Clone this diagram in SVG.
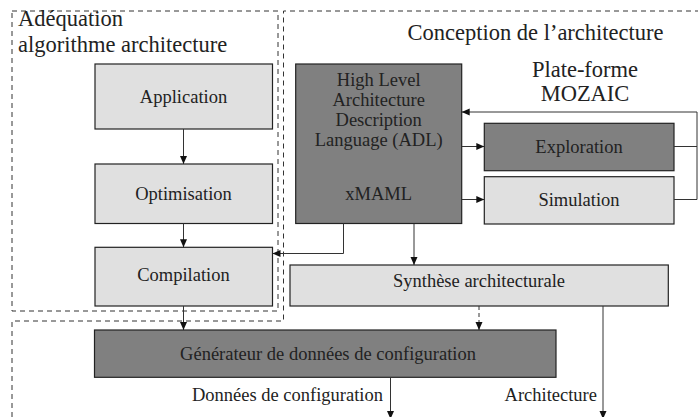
<svg xmlns="http://www.w3.org/2000/svg" width="698" height="417" viewBox="0 0 698 417">
<style>
text{font-family:"Liberation Serif","Times New Roman",serif;fill:#222}
.lbl{font-size:18.5px;text-anchor:middle}
.ttl{font-size:22.5px}
.light{fill:#e0e0e0;stroke:#222;stroke-width:1.2}
.dark{fill:#808080;stroke:#222;stroke-width:1.2}
.zone{fill:none;stroke:#333;stroke-width:1;stroke-dasharray:5 4}
.con{fill:none;stroke:#333;stroke-width:1}
</style>
<defs>
<marker id="ah" markerUnits="userSpaceOnUse" markerWidth="9" markerHeight="8" refX="8" refY="3.5" orient="auto">
<path d="M0,0 L8,3.5 L0,7 z" fill="#111"/>
</marker>
</defs>
<rect width="698" height="417" fill="#fff"/>
<g id="zones">
<rect class="zone" x="12" y="11" width="266" height="300"/>
<path class="zone" d="M700,11 H283.5 V321 H12 V420"/>
<text class="ttl" x="18" y="26">Adéquation</text>
<text class="ttl" x="18" y="52">algorithme architecture</text>
<text class="ttl" x="535.5" y="40" text-anchor="middle">Conception de l’architecture</text>
<text class="ttl" x="585" y="77" text-anchor="middle">Plate-forme</text>
<text class="ttl" x="585" y="101" text-anchor="middle">MOZAIC</text>
</g>
<g id="application">
<rect class="light" x="95" y="64" width="177.5" height="65"/>
<text class="lbl" x="183.5" y="103">Application</text>
</g>
<g id="optimisation">
<rect class="light" x="95" y="164" width="177.5" height="59.5"/>
<text class="lbl" x="183.5" y="199.5">Optimisation</text>
</g>
<g id="compilation">
<rect class="light" x="95" y="247.3" width="177.5" height="58.7"/>
<text class="lbl" x="183.5" y="281">Compilation</text>
</g>
<g id="adl">
<rect class="dark" x="295.7" y="64" width="166" height="159.5"/>
<text class="lbl" x="378.7" y="85.5">High Level</text>
<text class="lbl" x="378.7" y="105.8">Architecture</text>
<text class="lbl" x="378.7" y="126">Description</text>
<text class="lbl" x="378.7" y="146.3">Language (ADL)</text>
<text class="lbl" x="378.7" y="200">xMAML</text>
</g>
<g id="exploration">
<rect class="dark" x="484.3" y="123.3" width="189.7" height="47.4"/>
<text class="lbl" x="579" y="152.5">Exploration</text>
</g>
<g id="simulation">
<rect class="light" x="484.3" y="176.7" width="189.7" height="47.3"/>
<text class="lbl" x="579" y="206">Simulation</text>
</g>
<g id="synthese">
<rect class="light" x="290" y="265" width="378.3" height="41"/>
<text class="lbl" x="479" y="287">Synthèse architecturale</text>
</g>
<g id="generateur">
<rect class="dark" x="94.5" y="330" width="461.5" height="47.3"/>
<text class="lbl" x="328" y="359.5">Générateur de données de configuration</text>
</g>
<g id="connectors">
<path class="con" d="M183.5,129 V164" marker-end="url(#ah)"/>
<path class="con" d="M183.5,223.5 V247.3" marker-end="url(#ah)"/>
<path class="con" d="M183.5,306 V330" marker-end="url(#ah)"/>
<path class="con" d="M343.5,223.5 V253.5 H272.5" marker-end="url(#ah)"/>
<path class="con" d="M414,223.5 V265" marker-end="url(#ah)"/>
<path class="con" d="M461.7,146.5 H484.3" marker-end="url(#ah)"/>
<path class="con" d="M461.7,199.5 H484.3" marker-end="url(#ah)"/>
<path class="con" d="M674,146.5 H697"/>
<path class="con" d="M674,199.5 H697 V112 H461.7" marker-end="url(#ah)"/>
<path class="con" d="M479,306 V330" stroke-dasharray="4 3" marker-end="url(#ah)"/>
<path class="con" d="M390.5,377.3 V419" marker-end="url(#ah)"/>
<path class="con" d="M603,306 V419" marker-end="url(#ah)"/>
<text class="lbl" x="383" y="400.5" style="text-anchor:end">Données de configuration</text>
<text class="lbl" x="597" y="400.5" style="text-anchor:end">Architecture</text>
</g>
</svg>
